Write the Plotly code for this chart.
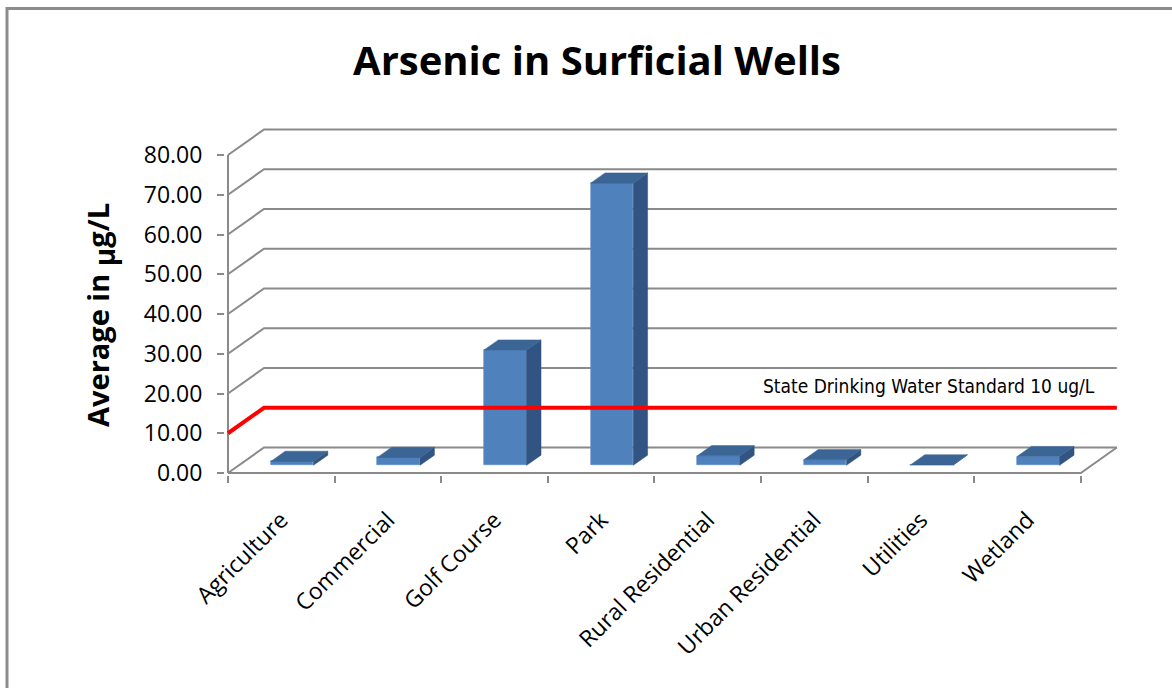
import plotly.graph_objects as go

# ---- data ----
categories = ["Agriculture", "Commercial", "Golf Course", "Park",
              "Rural Residential", "Urban Residential", "Utilities", "Wetland"]
arsenic_avg = [1.0, 2.0, 29.0, 71.0, 2.4, 1.4, 0.1, 2.2]
y_ticks = [0, 10, 20, 30, 40, 50, 60, 70, 80]
standard_level = 10
standard_label = "State Drinking Water Standard 10 ug/L"

# ---- pseudo-3D geometry (in axis units) ----
W, H = 1172, 688
PX_X = 106.6          # pixels per category
PX_Y = 3.975          # pixels per value unit
DX = 36 / PX_X        # depth offset, x units
DY = 25.5 / PX_Y      # depth offset, value units
BAR_W = 0.4           # bar width (fraction of category)
BAR_D0, BAR_D1 = 0.3, 0.7   # bar depth span (fraction of full depth)
N = len(categories)
YMAX = y_ticks[-1]

# plot area placement
ML, MR, MT, MB = 225, 49, 126, 213
X0_PX, Y0_PX = 228, 473
x_range = [(ML - X0_PX) / PX_X, (W - MR - X0_PX) / PX_X]
y_range = [-(H - MB - Y0_PX) / PX_Y, (Y0_PX - MT) / PX_Y]


def px_to_paper(px, py):
    return ((px - ML) / (W - ML - MR), (H - MB - py) / (H - MT - MB))


GRID = "#8a8a8a"
FRONT = "#4f81bd"
TOP = "#3b6595"
SIDE = "#325482"

fig = go.Figure()

# front faces of the columns
ox, oy = BAR_D0 * DX, BAR_D0 * DY
centers = [i + 0.5 + ox for i in range(N)]
fig.add_trace(go.Bar(
    x=centers, y=arsenic_avg, base=[oy] * N, width=BAR_W,
    marker=dict(color=FRONT, line=dict(color="#5b8cc6", width=0.6)),
    hoverinfo="skip", showlegend=False,
))

# top and side faces
ddx, ddy = (BAR_D1 - BAR_D0) * DX, (BAR_D1 - BAR_D0) * DY
top_x, top_y, side_x, side_y = [], [], [], []
for c, v in zip(centers, arsenic_avg):
    xl, xr = c - BAR_W / 2, c + BAR_W / 2
    yt = oy + v
    top_x += [xl, xr, xr + ddx, xl + ddx, xl, None]
    top_y += [yt, yt, yt + ddy, yt + ddy, yt, None]
    side_x += [xr, xr + ddx, xr + ddx, xr, xr, None]
    side_y += [oy, oy + ddy, yt + ddy, yt, oy, None]

fig.add_trace(go.Scatter(x=side_x, y=side_y, fill="toself", fillcolor=SIDE,
                         mode="lines", line=dict(color=SIDE, width=0.5),
                         hoverinfo="skip", showlegend=False))
fig.add_trace(go.Scatter(x=top_x, y=top_y, fill="toself", fillcolor=TOP,
                         mode="lines", line=dict(color=TOP, width=0.5),
                         hoverinfo="skip", showlegend=False))

# drinking water standard line on side wall and back wall
fig.add_trace(go.Scatter(
    x=[0, DX, N + DX], y=[standard_level, standard_level + DY, standard_level + DY],
    mode="lines", line=dict(color="#ff0000", width=4),
    hoverinfo="skip", showlegend=False,
))

# wall gridlines, floor edge and vertical axis line (behind the columns)
shapes = []
for v in y_ticks:
    shapes.append(dict(type="path", xref="x", yref="y", layer="below",
                       path=f"M 0,{v} L {DX},{v + DY} L {N + DX},{v + DY}",
                       line=dict(color=GRID, width=2)))
shapes.append(dict(type="path", xref="x", yref="y", layer="below",
                   path=f"M 0,0 L {N},0 L {N + DX},{DY}",
                   line=dict(color=GRID, width=2)))
shapes.append(dict(type="path", xref="x", yref="y", layer="below",
                   path=f"M 0,0 L 0,{YMAX}",
                   line=dict(color=GRID, width=2)))

# chart frame
bx0, by0 = px_to_paper(7, H + 20)
bx1, by1 = px_to_paper(W + 20, 8.5)
shapes.append(dict(type="rect", xref="paper", yref="paper",
                   x0=bx0, y0=by0, x1=bx1, y1=by1,
                   line=dict(color="#8c8c8c", width=3)))

ax_t, ay_t = px_to_paper(100, 315)
annotations = [
    dict(text="Average in <sub><span style='font-size:28px'>µ</span></sub>g/L",
         textangle=-90,
         xref="paper", yref="paper", x=ax_t, y=ay_t,
         xanchor="center", yanchor="middle", showarrow=False,
         font=dict(family="Open Sans", size=29, color="black", weight=700)),
    dict(text=standard_label, xref="x", yref="y",
         x=N + 0.15, y=standard_level + DY + 5.5,
         xanchor="right", yanchor="middle", showarrow=False,
         font=dict(family="DejaVu Sans Condensed", size=19, color="black")),
]

fig.update_layout(
    width=W, height=H,
    margin=dict(l=ML, r=MR, t=MT, b=MB),
    paper_bgcolor="white", plot_bgcolor="white",
    title=dict(text="Arsenic in Surficial Wells", x=597 / W, xref="container",
               y=1 - 61 / H, yref="container", xanchor="center", yanchor="middle",
               font=dict(family="Open Sans", size=40, color="black", weight=700)),
    shapes=shapes,
    annotations=annotations,
    bargap=0,
    xaxis=dict(
        range=x_range, showgrid=False, zeroline=False, showline=False,
        tickmode="array", tickvals=[i + 0.5 for i in range(N)], ticktext=categories,
        ticks="", tickangle=-45, ticklabelstandoff=26,
        tickfont=dict(family="Open Sans", size=23, color="black"),
        minor=dict(tickmode="array", tickvals=list(range(N + 1)),
                   ticks="outside", ticklen=7, tickwidth=1.5, tickcolor=GRID,
                   showgrid=False),
    ),
    yaxis=dict(
        range=y_range, showgrid=False, zeroline=False, showline=False,
        tickmode="array", tickvals=y_ticks, tickformat=".2f",
        ticks="outside", ticklen=7, tickwidth=1.5, tickcolor=GRID,
        ticklabelstandoff=10,
        tickfont=dict(family="Open Sans", size=23, color="black"),
    ),
)

fig.write_html("out.html")
